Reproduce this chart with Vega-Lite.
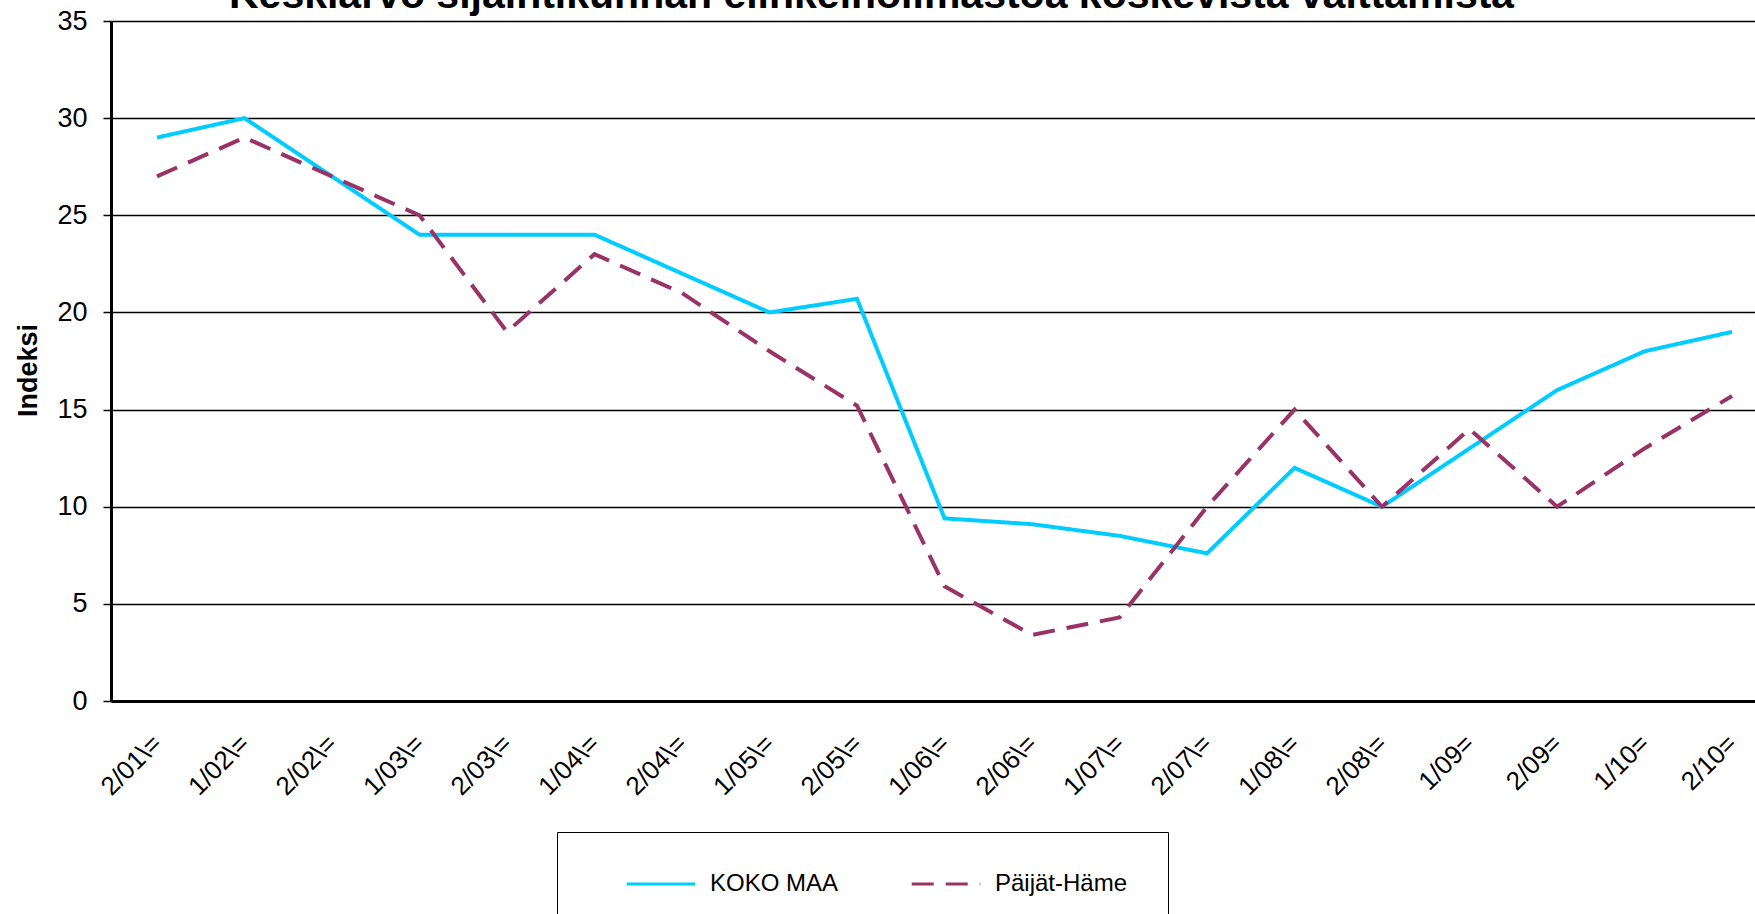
{
  "$schema": "https://vega.github.io/schema/vega-lite/v6.json",
  "autosize": "none",
  "width": 1644,
  "height": 680,
  "padding": {"left": 111, "top": 21, "right": 0, "bottom": 213},
  "background": "white",
  "title": {
    "text": "Keskiarvo sijaintikunnan elinkeinoilmastoa koskevista väittämistä",
    "font": "Liberation Sans",
    "fontSize": 41,
    "fontWeight": "bold",
    "color": "black",
    "anchor": "start",
    "baseline": "alphabetic",
    "offset": 0,
    "dy": 42,
    "dx": 214
  },
  "data": {
    "values": [
      {"period": "2/01\\=", "series": "KOKO MAA", "value": 29},
      {"period": "1/02\\=", "series": "KOKO MAA", "value": 30},
      {"period": "2/02\\=", "series": "KOKO MAA", "value": 27},
      {"period": "1/03\\=", "series": "KOKO MAA", "value": 24},
      {"period": "2/03\\=", "series": "KOKO MAA", "value": 24},
      {"period": "1/04\\=", "series": "KOKO MAA", "value": 24},
      {"period": "2/04\\=", "series": "KOKO MAA", "value": 22},
      {"period": "1/05\\=", "series": "KOKO MAA", "value": 20},
      {"period": "2/05\\=", "series": "KOKO MAA", "value": 20.7},
      {"period": "1/06\\=", "series": "KOKO MAA", "value": 9.4},
      {"period": "2/06\\=", "series": "KOKO MAA", "value": 9.1},
      {"period": "1/07\\=", "series": "KOKO MAA", "value": 8.5},
      {"period": "2/07\\=", "series": "KOKO MAA", "value": 7.6},
      {"period": "1/08\\=", "series": "KOKO MAA", "value": 12},
      {"period": "2/08\\=", "series": "KOKO MAA", "value": 10},
      {"period": "1/09=", "series": "KOKO MAA", "value": 13},
      {"period": "2/09=", "series": "KOKO MAA", "value": 16},
      {"period": "1/10=", "series": "KOKO MAA", "value": 18},
      {"period": "2/10=", "series": "KOKO MAA", "value": 19},
      {"period": "2/01\\=", "series": "Päijät-Häme", "value": 27},
      {"period": "1/02\\=", "series": "Päijät-Häme", "value": 29},
      {"period": "2/02\\=", "series": "Päijät-Häme", "value": 27},
      {"period": "1/03\\=", "series": "Päijät-Häme", "value": 25},
      {"period": "2/03\\=", "series": "Päijät-Häme", "value": 19},
      {"period": "1/04\\=", "series": "Päijät-Häme", "value": 23},
      {"period": "2/04\\=", "series": "Päijät-Häme", "value": 21},
      {"period": "1/05\\=", "series": "Päijät-Häme", "value": 18},
      {"period": "2/05\\=", "series": "Päijät-Häme", "value": 15.2},
      {"period": "1/06\\=", "series": "Päijät-Häme", "value": 5.9},
      {"period": "2/06\\=", "series": "Päijät-Häme", "value": 3.4},
      {"period": "1/07\\=", "series": "Päijät-Häme", "value": 4.3},
      {"period": "2/07\\=", "series": "Päijät-Häme", "value": 10},
      {"period": "1/08\\=", "series": "Päijät-Häme", "value": 15},
      {"period": "2/08\\=", "series": "Päijät-Häme", "value": 10},
      {"period": "1/09=", "series": "Päijät-Häme", "value": 14},
      {"period": "2/09=", "series": "Päijät-Häme", "value": 10},
      {"period": "1/10=", "series": "Päijät-Häme", "value": 13},
      {"period": "2/10=", "series": "Päijät-Häme", "value": 15.7}
    ]
  },
  "mark": {"type": "line", "strokeWidth": 4, "strokeCap": "butt", "strokeJoin": "miter"},
  "encoding": {
    "x": {
      "field": "period",
      "type": "ordinal",
      "sort": null,
      "scale": {"type": "point", "padding": 0.394, "align": 0.667},
      "axis": {
        "title": null,
        "labelAngle": -45,
        "labelAlign": "right",
        "labelBaseline": "middle",
        "labelFont": "Liberation Sans",
        "labelFontSize": 26,
        "labelColor": "black",
        "labelPadding": 38,
        "ticks": false,
        "grid": false,
        "domainColor": "black",
        "domainWidth": 3
      }
    },
    "y": {
      "field": "value",
      "type": "quantitative",
      "scale": {"domain": [0, 35], "nice": false, "zero": true},
      "axis": {
        "title": "Indeksi",
        "titleFont": "Liberation Sans",
        "titleFontSize": 27,
        "titleFontWeight": "bold",
        "titleColor": "black",
        "titlePadding": 14,
        "titleY": 349,
        "values": [0, 5, 10, 15, 20, 25, 30, 35],
        "labelFont": "Liberation Sans",
        "labelFontSize": 27,
        "labelColor": "black",
        "labelPadding": 16,
        "tickColor": "black",
        "tickSize": 8,
        "tickWidth": 1.5,
        "grid": true,
        "gridColor": "black",
        "gridWidth": 1.5,
        "gridOpacity": 1,
        "domainColor": "black",
        "domainWidth": 3
      }
    },
    "color": {
      "field": "series",
      "type": "nominal",
      "scale": {"domain": ["KOKO MAA", "Päijät-Häme"], "range": ["#00CCFF", "#993366"]},
      "legend": {
        "title": null,
        "orient": "none",
        "legendX": 446,
        "legendY": 811,
        "direction": "horizontal",
        "strokeColor": "black",
        "fillColor": "white",
        "padding": 40,
        "clipHeight": 24,
        "symbolOffset": 28,
        "symbolType": "stroke",
        "symbolSize": 4700,
        "symbolStrokeWidth": 3,
        "labelFont": "Liberation Sans",
        "labelFontSize": 24,
        "labelColor": "black",
        "labelOffset": 13,
        "columnPadding": 43
      }
    },
    "strokeDash": {
      "field": "series",
      "type": "nominal",
      "scale": {"domain": ["KOKO MAA", "Päijät-Häme"], "range": [[1, 0], [22, 12]]},
      "legend": null
    }
  },
  "config": {
    "view": {"stroke": null}
  }
}
